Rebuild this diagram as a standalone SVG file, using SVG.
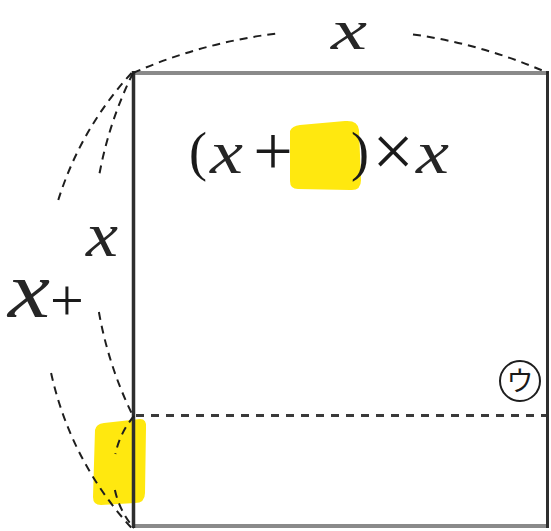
<svg xmlns="http://www.w3.org/2000/svg" width="551" height="531" viewBox="0 0 551 531">
<style>
.hl{fill:#ffe80f}
.arc{fill:none;stroke:#1e1e1e;stroke-width:2;stroke-dasharray:8 6}
.mx{font-family:"Liberation Serif",serif;font-style:italic;fill:#262626}
.op{font-family:"Liberation Serif",serif;fill:#1a1a1a;text-anchor:middle}
</style>
<rect width="551" height="531" fill="#ffffff"/>
<g id="highlights">
<path class="hl" d="M290,131 Q292,126 300,125 L345,121 Q358,120 359,130 L361,180 Q361,191 350,190 L298,189 Q290,189 290,181 Z"/>
<path class="hl" d="M95,430 Q96,424 104,423 L140,419 Q147,419 146,428 L145,493 Q145,503 135,503 L101,505 Q93,505 93,497 Z"/>
</g>
<g id="rectangle">
<line x1="132" y1="73" x2="549" y2="73" stroke="#8a8a8a" stroke-width="4"/>
<line x1="132" y1="526" x2="549" y2="526" stroke="#8a8a8a" stroke-width="4"/>
<line x1="133.5" y1="71" x2="133.5" y2="528" stroke="#2e2e2e" stroke-width="3.5"/>
<line x1="547.5" y1="71" x2="547.5" y2="528" stroke="#2e2e2e" stroke-width="3"/>
</g>
<g id="connectors">
<line x1="136" y1="415.5" x2="546" y2="415.5" stroke="#3a3a3a" stroke-width="3" stroke-dasharray="8 7"/>
<path class="arc" d="M133,73 A510.6,510.6 0 0 1 281,33"/>
<path class="arc" d="M413,34.4 A510.6,510.6 0 0 1 548,73"/>
<path class="arc" d="M131.6,73 A335,335 0 0 0 58.3,200"/>
<path class="arc" d="M51.1,373 A335,335 0 0 0 131.6,528"/>
<path class="arc" d="M133,73 A387.7,387.7 0 0 0 98.7,178"/>
<path class="arc" d="M98.9,312 A387.7,387.7 0 0 0 133,416"/>
<path class="arc" d="M134,416 A85.2,85.2 0 0 0 115.4,454"/>
<path class="arc" d="M114.9,490 A85.2,85.2 0 0 0 134,528"/>
</g>
<g id="label-top">
<text class="mx" x="331" y="49" font-size="56" textLength="36" lengthAdjust="spacingAndGlyphs">x</text>
</g>
<g id="label-left-x">
<text class="mx" x="86" y="256" font-size="64" textLength="32" lengthAdjust="spacingAndGlyphs">x</text>
</g>
<g id="label-left-xplus">
<text class="mx" x="8" y="317" font-size="80" textLength="42" lengthAdjust="spacingAndGlyphs">x</text>
<text class="op" x="67" y="320" font-size="60">+</text>
</g>
<g id="formula">
<text class="op" x="198" y="170" font-size="54">(</text>
<text class="mx" x="210" y="173" font-size="62" textLength="33" lengthAdjust="spacingAndGlyphs">x</text>
<text class="op" x="273" y="175" font-size="70">+</text>
<text class="op" x="360" y="170" font-size="54">)</text>
<text class="op" x="393" y="176" font-size="74">×</text>
<text class="mx" x="416" y="173" font-size="62" textLength="33" lengthAdjust="spacingAndGlyphs">x</text>
</g>
<g id="label-u">
<circle cx="520" cy="381" r="20" fill="none" stroke="#1e1e1e" stroke-width="2"/>
<text x="520" y="391" font-size="27" text-anchor="middle" font-family="'Noto Sans CJK JP',sans-serif" fill="#1a1a1a">ウ</text>
</g>
</svg>
